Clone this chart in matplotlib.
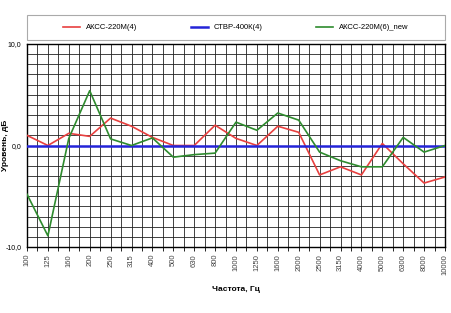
import matplotlib
matplotlib.use("Agg")
import matplotlib.pyplot as plt
from matplotlib.patches import Rectangle
import numpy as np

freqs = ["100", "125", "160", "200", "250", "315", "400", "500", "630", "800",
         "1000", "1250", "1600", "2000", "2500", "3150", "4000", "5000", "6300",
         "8000", "10000"]
akss4 = [1.0, 0.0, 1.2, 0.9, 2.7, 1.9, 0.8, 0.0, 0.0, 2.0,
         0.7, 0.0, 1.9, 1.3, -2.9, -2.1, -2.9, 0.2, -1.8, -3.7, -3.1]
stvr4 = [0.0] * len(freqs)
akss6_new = [-4.8, -8.9, 0.7, 5.4, 0.65, 0.0, 0.75, -1.15, -0.9, -0.75,
             2.3, 1.5, 3.2, 2.5, -0.65, -1.5, -2.1, -2.1, 0.8, -0.65, 0.0]
names = ["АКСС-220М(4)", "СТВР-400К(4)", "АКСС-220М(6)_new"]
colors = ["#e8403f", "#2424d8", "#2e8b2e"]
widths = [1.2, 1.8, 1.2]

plt.rcParams["font.family"] = ["Liberation Sans", "DejaVu Sans"]
W, H = 452, 313
fig = plt.figure(figsize=(W / 100, H / 100), dpi=100)
ax = fig.add_axes([27 / W, 1 - 247 / H, 418 / W, 203 / H])

x = np.arange(len(freqs))
for ys, name, c, lw in zip([akss4, stvr4, akss6_new], names, colors, widths):
    ax.plot(x, ys, color=c, lw=lw, label=name, zorder=3)

ax.set_xlim(0, len(freqs) - 1)
ax.set_ylim(-10, 10)
ax.set_xticks(x)
ax.set_xticklabels(freqs, rotation=90, fontsize=5.5, color="#444444")
ax.set_xticks(np.arange(0, len(freqs) - 1, 0.5), minor=True)
ax.set_yticks([-10, 0, 10])
ax.set_yticklabels(["-10,0", "0,0", "10,0"], fontsize=5)
ax.set_yticks(np.arange(-10, 11, 1), minor=True)
ax.tick_params(axis="x", which="both", length=3, width=0.6, pad=2)
ax.tick_params(axis="y", which="both", length=0, pad=4)
ax.grid(True, which="both", color="#222222", lw=0.6)
for s in ax.spines.values():
    s.set_linewidth(1.0)

ax.set_xlabel("Частота, Гц", fontsize=6, fontweight="bold", labelpad=8)
fig.text(6 / W, 1 - 145 / H, "Уровень, дБ", rotation=90, fontsize=6,
         fontweight="bold", ha="center", va="center")

# legend box spanning the plot width
fig.add_artist(Rectangle((27 / W, 1 - 40 / H), 418 / W, 25 / H,
                         transform=fig.transFigure, fill=False,
                         edgecolor="#aaaaaa", lw=0.8))
fig.legend(loc="center", bbox_to_anchor=(236 / W, 1 - 27.5 / H), ncol=3,
           fontsize=5.5, frameon=False, handlelength=2.2, columnspacing=7)

fig.savefig("out.png", dpi=100)
